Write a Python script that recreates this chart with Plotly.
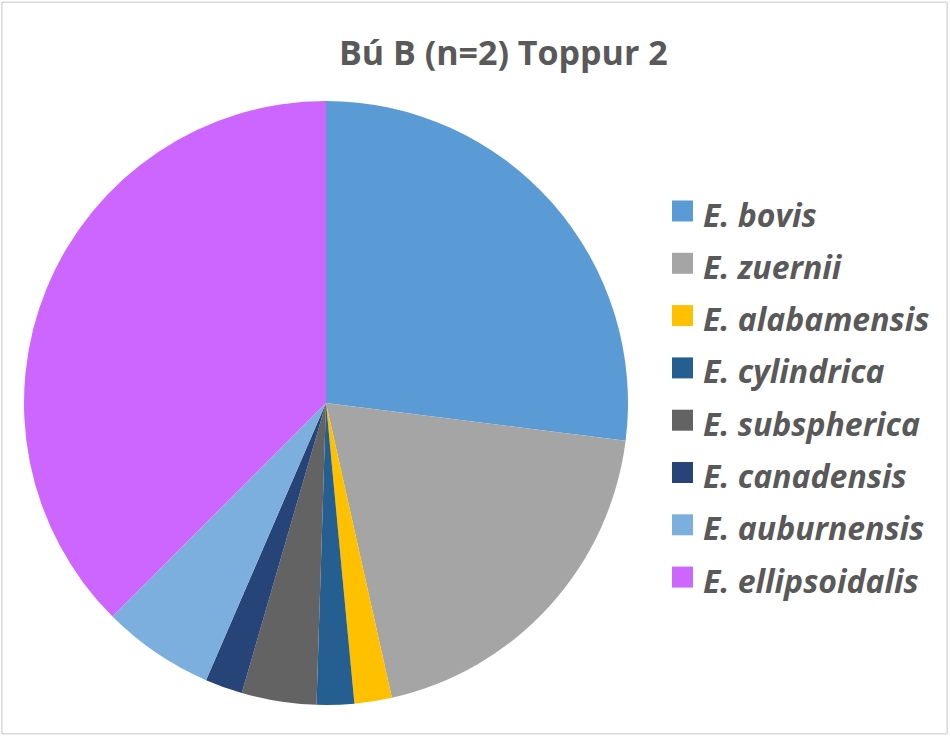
import plotly.graph_objects as go

labels = ["E. bovis", "E. zuernii", "E. alabamensis", "E. cylindrica",
          "E. subspherica", "E. canadensis", "E. auburnensis", "E. ellipsoidalis"]
values = [27.0, 19.5, 2.0, 2.0, 4.0, 2.0, 6.0, 37.5]
colors = ["#5B9BD5", "#A5A5A5", "#FFC000", "#255E91",
          "#636363", "#264478", "#7CAFDD", "#CC66FF"]
title_text = "Bú B (n=2) Toppur 2"

W, H = 950, 736
fig = go.Figure()
fig.add_trace(go.Pie(
    labels=labels, values=values, sort=False, direction="clockwise", rotation=0,
    marker=dict(colors=colors, line=dict(width=0)),
    textinfo="none", showlegend=False,
    domain=dict(x=[24 / W, 628 / W], y=[1 - 705 / H, 1 - 101 / H]),
))

shapes = [dict(type="rect", xref="paper", yref="paper", x0=0.002, x1=0.997, y0=0.003, y1=0.997,
               line=dict(color="#D9D9D9", width=1.5), fillcolor="rgba(0,0,0,0)")]
annotations = [dict(text=f"<b>{title_text}</b>", x=503 / W, y=1 - 52 / H, xref="paper", yref="paper",
                    xanchor="center", yanchor="middle", showarrow=False,
                    font=dict(family="Open Sans", size=34, color="#595959"))]
y0, dy = 211, 52.3
for i, (lab, col) in enumerate(zip(labels, colors)):
    yc = y0 + i * dy
    shapes.append(dict(type="rect", xref="paper", yref="paper",
                       x0=672 / W, x1=693 / W, y0=1 - (yc + 10.5) / H, y1=1 - (yc - 10.5) / H,
                       fillcolor=col, line=dict(width=0)))
    annotations.append(dict(text=f"<b><i>{lab}</i></b>", x=701 / W, y=1 - (yc + 3) / H,
                            xref="paper", yref="paper", xanchor="left", yanchor="middle",
                            showarrow=False,
                            font=dict(family="Open Sans", size=32, color="#595959")))

fig.update_layout(width=W, height=H, margin=dict(l=0, r=0, t=0, b=0),
                  paper_bgcolor="white", plot_bgcolor="white",
                  shapes=shapes, annotations=annotations)
fig.write_html("out.html", config={"displayModeBar": False},
               post_script="document.body.style.margin='0';document.body.style.overflow='hidden';")
